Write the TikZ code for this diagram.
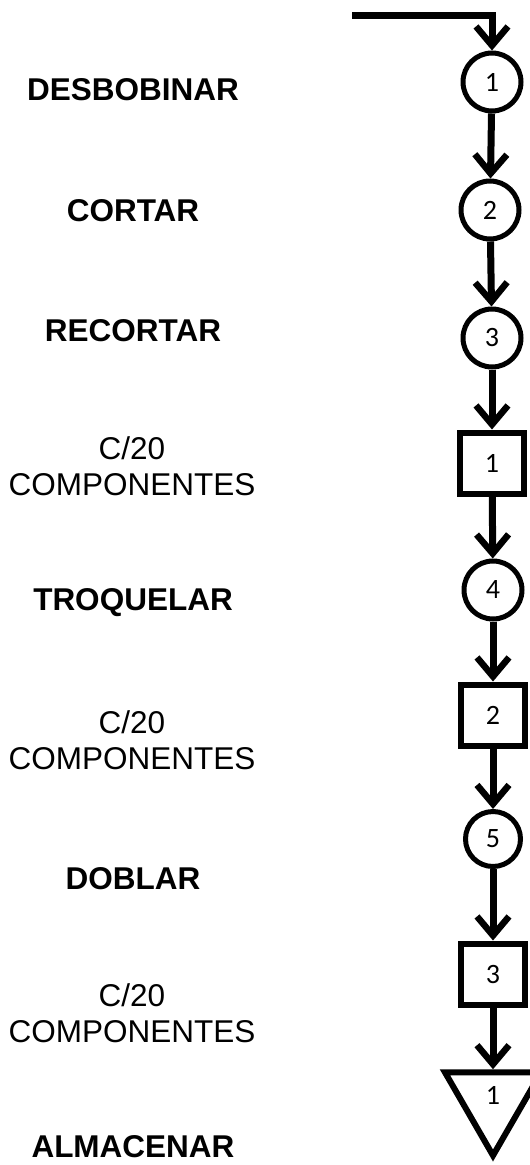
\documentclass[tikz,border=0pt]{standalone}
\usepackage{fontspec}
\setmainfont{Liberation Sans}
\newfontfamily\digitfont{Carlito}
\usetikzlibrary{arrows.meta,shapes.geometric}

\begin{document}
\begin{tikzpicture}[x=1pt,y=-1pt,
  digits/.style={font=\digitfont\fontsize{28}{28}\selectfont},
  op/.style={circle,draw,line width=5pt,minimum size=58pt,inner sep=0pt,digits},
  insp/.style={rectangle,draw,line width=6pt,minimum width=64pt,minimum height=61pt,
    inner sep=0pt,digits},
  store/.style={regular polygon,regular polygon sides=3,shape border rotate=180,
    draw,line width=6pt,minimum size=111pt,inner sep=0pt,digits},
  flow/.style={line width=7pt,-{Straight Barb[length=19pt,width=32pt,line width=6.5pt]}},
  lbl/.style={font=\bfseries\fontsize{31.5}{36}\selectfont},
  note/.style={align=center,font=\fontsize{31.5}{36}\selectfont}
]
\useasboundingbox (0,0) rectangle (530,1165);

% symbols of the process chart
\node[op]   (c1) at (492,82)  {1};
\node[op]   (c2) at (490,210) {2};
\node[op]   (c3) at (492,338) {3};
\node[insp] (i1) at (492,463) {1};
\node[op]   (c4) at (493,590) {4};
\node[insp] (i2) at (493,715) {2};
\node[op,minimum size=55pt] (c5) at (493,839) {5};
\node[insp] (i3) at (493,974) {3};
\node[store] (s1) at (493,1100) {\raisebox{10pt}{1}};

% incoming material
\coordinate (in) at (352,15);
\draw[flow] (in) -| (c1);

% flow between the steps
\draw[flow] (c1) -- (c2);
\draw[flow] (c2) -- (c3);
\draw[flow] (c3) -- (i1);
\draw[flow] (i1) -- (c4);
\draw[flow] (c4) -- (i2);
\draw[flow] (i2) -- (c5);
\draw[flow] (c5) -- (i3);
\draw[flow] (i3) -- (s1);

% step descriptions
\node[lbl]  (t1) at (133,90)   {DESBOBINAR};
\node[lbl]  (t2) at (133,211)  {CORTAR};
\node[lbl]  (t3) at (133,331)  {RECORTAR};
\node[note] (t4) at (132,466)  {C/20\\COMPONENTES};
\node[lbl]  (t5) at (133,603)  {TROQUELAR};
\node[note] (t6) at (132,740)  {C/20\\COMPONENTES};
\node[lbl]  (t7) at (133,879)  {DOBLAR};
\node[note] (t8) at (132,1013) {C/20\\COMPONENTES};
\node[lbl]  (t9) at (133,1147) {ALMACENAR};
\end{tikzpicture}
\end{document}
